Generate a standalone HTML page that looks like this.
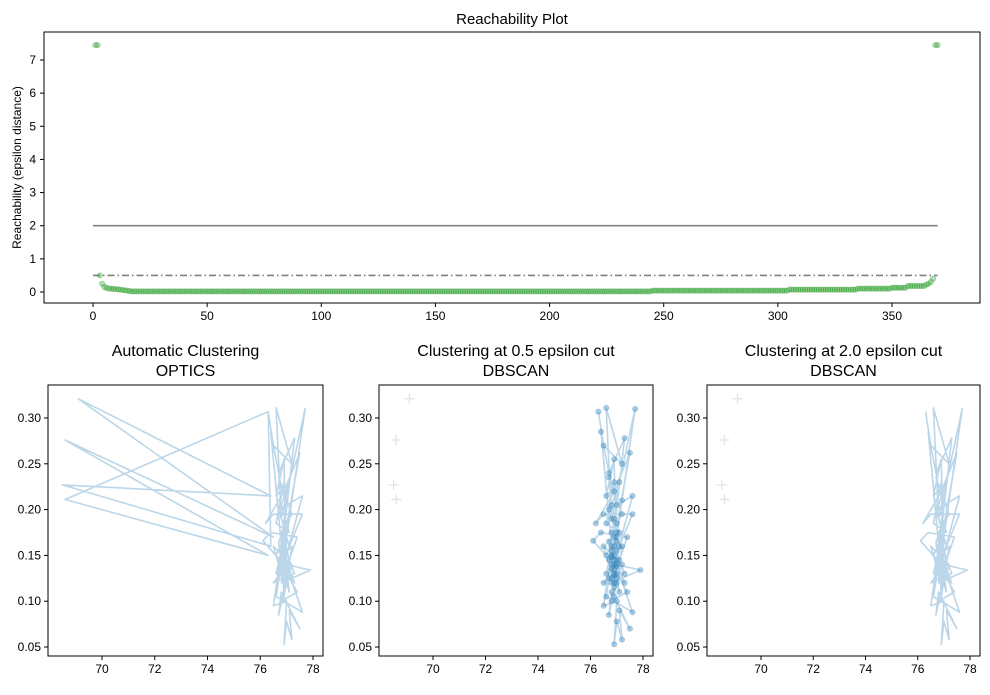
<!DOCTYPE html>
<html><head><meta charset="utf-8"><style>
body{margin:0;background:#fff;}
svg{font-family:"Liberation Sans","DejaVu Sans",sans-serif;}
</style></head><body>
<svg id="c" width="990" height="690" viewBox="0 0 990 690"></svg>
<script>
const reach=[7.45,7.45,
0.5,0.25,0.15,0.12,0.1,0.1,0.09,0.09,0.08,0.07,0.06,0.05,0.04,0.03,
0.02,0.02,0.02,0.02,0.02,0.02,0.02,0.02,0.02,0.02,0.02,0.02,
0.02,0.02,0.02,0.02,0.02,0.02,0.02,0.02,0.02,0.02,0.02,0.02,
0.02,0.02,0.02,0.02,0.02,0.02,0.02,0.02,0.02,0.02,0.02,0.02,
0.02,0.02,0.02,0.02,0.02,0.02,0.02,0.02,0.02,0.02,0.02,0.02,
0.02,0.02,0.02,0.02,0.02,0.02,0.02,0.02,0.02,0.02,0.02,0.02,
0.02,0.02,0.02,0.02,0.02,0.02,0.02,0.02,0.02,0.02,0.02,0.02,
0.02,0.02,0.02,0.02,0.02,0.02,0.02,0.02,0.02,0.02,0.02,0.02,
0.02,0.02,0.02,0.02,0.02,0.02,0.02,0.02,0.02,0.02,0.02,0.02,
0.02,0.02,0.02,0.02,0.02,0.02,0.02,0.02,0.02,0.02,0.02,0.02,
0.02,0.02,0.02,0.02,0.02,0.02,0.02,0.02,0.02,0.02,0.02,0.02,
0.02,0.02,0.02,0.02,0.02,0.02,0.02,0.02,0.02,0.02,0.02,0.02,
0.02,0.02,0.02,0.02,0.02,0.02,0.02,0.02,0.02,0.02,0.02,0.02,
0.02,0.02,0.02,0.02,0.02,0.02,0.02,0.02,0.02,0.02,0.02,0.02,
0.02,0.02,0.02,0.02,0.02,0.02,0.02,0.02,0.02,0.02,0.02,0.02,
0.02,0.02,0.02,0.02,0.02,0.02,0.02,0.02,0.02,0.02,0.02,0.02,
0.02,0.02,0.02,0.02,0.02,0.02,0.02,0.02,0.02,0.02,0.02,0.02,
0.02,0.02,0.02,0.02,0.02,0.02,0.02,0.02,0.02,0.02,0.02,0.02,
0.02,0.02,0.02,0.02,0.02,0.02,0.02,0.02,0.02,0.02,0.02,0.02,
0.02,0.02,0.02,0.02,0.02,0.02,0.02,0.02,0.02,0.02,0.02,0.02,
0.04,0.04,0.04,0.04,0.04,0.04,0.04,0.04,0.04,0.04,0.04,0.04,0.04,0.04,0.04,0.04,
0.04,0.04,0.04,0.04,0.04,0.04,0.04,0.04,0.04,0.04,0.04,0.04,0.04,0.04,0.04,0.04,
0.04,0.04,0.04,0.04,0.04,0.04,0.04,0.04,0.04,0.04,0.04,0.04,0.04,0.04,0.04,0.04,
0.04,0.04,0.04,0.04,0.04,0.04,0.04,0.04,0.04,0.04,0.04,0.04,
0.07,0.07,0.07,0.07,0.07,0.07,0.07,0.07,0.07,0.07,0.07,0.07,0.07,0.07,0.07,
0.07,0.07,0.07,0.07,0.07,0.07,0.07,0.07,0.07,0.07,0.07,0.07,0.07,0.07,0.07,
0.1,0.1,0.1,0.1,0.1,0.1,0.1,0.1,0.1,0.1,0.1,0.1,0.1,0.1,0.1,
0.13,0.13,0.13,0.13,0.13,0.13,0.13,
0.18,0.18,0.18,0.18,0.18,0.18,0.18,0.18,
0.22,0.25,0.3,0.4,
7.45,7.45];
const reachYTicks=[0,1,2,3,4,5,6,7];
const reachXTicks=[0,50,100,150,200,250,300,350];
const epsCuts=[2,0.5];
const clusterX=[76.3,76.5,77.2,76.6,76.8,77.7,77.0,76.9,76.4,76.7,77.3,76.8,77.5,76.9,76.2,76.5,77.6,77.1,76.7,77.6,76.9,76.1,76.4,77.4,76.8,77.9,77.0,76.5,77.3,76.9,77.2,76.6,77.6,76.8,76.5,77.0,76.9,77.0,77.2,77.1,77.5,76.8,76.7,77.0,76.6,76.9,77.1,76.8,77.0,76.9,76.7,77.0,76.8,77.1,76.6,76.9,77.0,76.8,76.9,77.0,76.8,76.9,77.1,76.7,77.2,76.9,76.8,77.3,76.6,77.0,76.9,76.5,77.2,76.8,77.4,76.9,77.0,76.7,76.9,77.1,76.6,76.9,77.0,76.7,77.2,76.8,77.0,76.9,76.8,77.0];
const clusterY=[0.307,0.27,0.25,0.311,0.19,0.310,0.17,0.13,0.285,0.24,0.278,0.15,0.262,0.22,0.185,0.195,0.195,0.16,0.20,0.215,0.14,0.166,0.175,0.170,0.12,0.134,0.14,0.12,0.13,0.16,0.21,0.105,0.088,0.155,0.095,0.10,0.053,0.078,0.058,0.09,0.070,0.11,0.085,0.125,0.13,0.17,0.145,0.135,0.155,0.115,0.165,0.185,0.205,0.23,0.215,0.255,0.12,0.14,0.145,0.13,0.125,0.15,0.11,0.145,0.16,0.105,0.16,0.12,0.15,0.175,0.12,0.16,0.14,0.10,0.11,0.135,0.165,0.125,0.19,0.175,0.185,0.23,0.205,0.235,0.195,0.175,0.145,0.128,0.148,0.138];
const noiseX=[69.1,68.6,68.5,68.6];
const noiseY=[0.321,0.276,0.227,0.211];
const opticsPrefixX=[76.3,68.6,76.3,68.6,76.5,69.1,76.4,68.5,76.4];
const opticsPrefixY=[0.307,0.211,0.15,0.276,0.17,0.321,0.215,0.227,0.16];
const subXTicks=[70,72,74,76,78];
const subYTicks=[0.05,0.10,0.15,0.20,0.25,0.30];

const svg=document.getElementById('c');
const NS='http://www.w3.org/2000/svg';
function mk(tag,attrs,parent){const e=document.createElementNS(NS,tag);for(const k in attrs)e.setAttribute(k,attrs[k]);(parent||svg).appendChild(e);return e;}
function txt(s,x,y,anchor,size,parent){const t=mk('text',{x:x,y:y,'text-anchor':anchor,'font-size':size,fill:'#000'},parent);t.textContent=s;return t;}

// ---- Reachability plot ----
const R={l:44,r:980,t:32,b:303};
const rx=v=>93+v*(892-93)/350;
const ry=v=>292-v*(292-60)/7;
const g0=mk('g',{});


const t0=txt('Reachability Plot',(R.l+R.r)/2,24,'middle',15,g0);


const cutStyles=[{d:'none'},{d:'7,3,1.5,3'}];
epsCuts.forEach((c,i)=>{
  const l=mk('line',{x1:rx(0),x2:rx(reach.length),y1:ry(c),y2:ry(c),stroke:'#808080','stroke-width':1.6,'stroke-dasharray':cutStyles[i].d},g0);
  
  
});
const gp=mk('g',{},g0);


reach.forEach((v,i)=>{
  const c=mk('circle',{cx:rx(i+1),cy:ry(v),r:2.6,fill:'rgba(44,160,44,0.35)',stroke:'rgba(44,160,44,0.45)','stroke-width':0.8},gp);
  
  
});
mk('rect',{x:R.l,y:R.t,width:R.r-R.l,height:R.b-R.t,fill:'none',stroke:'#000','stroke-width':1},g0);
reachXTicks.forEach(v=>{mk('line',{x1:rx(v),x2:rx(v),y1:R.b,y2:R.b+4,stroke:'#000'},g0);txt(String(v),rx(v),R.b+17,'middle',12,g0);});
reachYTicks.forEach(v=>{mk('line',{x1:R.l-4,x2:R.l,y1:ry(v),y2:ry(v),stroke:'#000'},g0);txt(String(v),R.l-8,ry(v)+4,'end',12,g0);});
const yl=txt('Reachability (epsilon distance)',0,0,'middle',12,g0);
yl.setAttribute('transform','translate(21,'+((R.t+R.b)/2)+') rotate(-90)');



// ---- Sub panels ----
const panels=[{l:48,r:323,t1:'Automatic Clustering',t2:'OPTICS',mode:'optics',name:'optics-panel'},
              {l:379,r:653,t1:'Clustering at 0.5 epsilon cut',t2:'DBSCAN',mode:'db05',name:'dbscan-05-panel'},
              {l:707,r:980,t1:'Clustering at 2.0 epsilon cut',t2:'DBSCAN',mode:'db2',name:'dbscan-2-panel'}];
const T=385,B=656;
panels.forEach(p=>{
  const w=p.r-p.l;
  const sx=v=>p.l+54+(v-70)*(w-64)/8;
  const sy=v=>418+(0.30-v)*(647-418)/0.25;
  const g=mk('g',{});
  
  
  const a=txt(p.t1,(p.l+p.r)/2,356,'middle',16,g);
  
  
  const b=txt(p.t2,(p.l+p.r)/2,376,'middle',16,g);
  
  
  let px,py;
  if(p.mode==='optics'){px=opticsPrefixX.concat(clusterX);py=opticsPrefixY.concat(clusterY);}
  else{px=clusterX;py=clusterY;
    noiseX.forEach((x,i)=>{
      const cx=sx(x),cy=sy(noiseY[i]);
      const n=mk('path',{d:`M${cx-5},${cy}H${cx+5}M${cx},${cy-5}V${cy+5}`,stroke:'#e2e2e2','stroke-width':1.2},g);
      
      
    });
  }
  const d=px.map((x,i)=>(i?'L':'M')+sx(x).toFixed(1)+','+sy(py[i]).toFixed(1)).join('');
  const line=mk('path',{d:d,fill:'none',stroke:'#1f77b4','stroke-opacity':0.3,'stroke-width':1.6,'stroke-linejoin':'round'},g);
  
  
  if(p.mode==='db05'){
    clusterX.forEach((x,i)=>{
      const c=mk('circle',{cx:sx(x),cy:sy(clusterY[i]),r:2.6,fill:'rgba(31,119,180,0.35)',stroke:'rgba(31,119,180,0.35)','stroke-width':0.8},g);
      
      
    });
  }
  mk('rect',{x:p.l,y:T,width:w,height:B-T,fill:'none',stroke:'#000'},g);
  subXTicks.forEach(v=>{mk('line',{x1:sx(v),x2:sx(v),y1:B,y2:B+4,stroke:'#000'},g);txt(String(v),sx(v),B+17,'middle',12,g);});
  subYTicks.forEach(v=>{mk('line',{x1:p.l-4,x2:p.l,y1:sy(v),y2:sy(v),stroke:'#000'},g);txt(v.toFixed(2),p.l-7,sy(v)+4,'end',12,g);});
});
</script>
</body></html>
